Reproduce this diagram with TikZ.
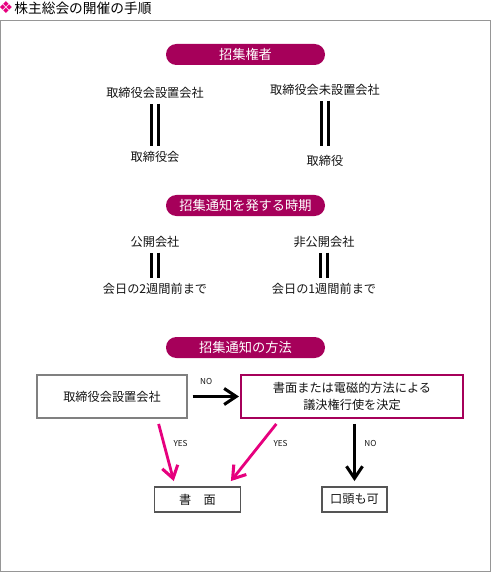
\documentclass[tikz,border=0pt]{standalone}
\usepackage{fontspec}
\setmainfont{Noto Sans CJK JP}
\newfontfamily\symfont{DejaVu Sans}
\usepackage{tikz}
\usetikzlibrary{
  arrows.meta,
  positioning,
  calc
}
\definecolor{pillcolor}{RGB}{166, 0, 90}
\definecolor{pinkcolor}{RGB}{230, 0, 126}
\definecolor{framecolor}{RGB}{150, 150, 150}
\definecolor{greybox}{RGB}{128, 128, 128}
\definecolor{darkbox}{RGB}{85, 85, 85}
\definecolor{labelcolor}{RGB}{20, 20, 20}
\tikzset{
blocktext/.style={
  align=center,
  font=\fontsize{10.4}{14}\selectfont,
  text=labelcolor
},
pill/.style={
  fill=pillcolor,
  rounded corners=0.31cm,
  minimum width=4.77cm,
  minimum height=0.63cm,
  inner sep=0pt,
  text=white,
  font=\fontsize{11.3}{13}\selectfont
},
plain/.style={
  blocktext,
  inner sep=1pt
},
greyblock/.style={
  draw=greybox,
  line width=1.6pt,
  minimum height=1.29cm,
  blocktext
},
pinkblock/.style={
  draw=pillcolor,
  line width=1.6pt,
  minimum height=1.29cm,
  blocktext
},
resultblock/.style={
  draw=darkbox,
  line width=1.6pt,
  minimum height=0.75cm,
  inner sep=0pt,
  blocktext
},
eqbar/.style={
  double=white,
  draw=black,
  line width=3pt,
  double distance=3pt,
  shorten <=3pt,
  shorten >=3pt
},
arrow/.style={
  -{Straight Barb[length=3.6mm,width=4.8mm,line width=2.6pt]},
  line width=2.8pt,
  draw=black
},
yesarrow/.style={
  arrow,
  draw=pinkcolor,
  line width=2.4pt
},
tag/.style={
  font=\fontsize{7}{8}\selectfont,
  text=labelcolor,
  inner sep=0pt
}
}

\begin{document}
\begin{tikzpicture}[x=0.03cm,y=-0.03cm]
  \useasboundingbox (0,0) rectangle (491,572);
  % heading and frame
  \node[text=pinkcolor, font=\symfont\fontsize{14}{14}\selectfont, inner sep=0pt] (mark) at (6,8) {❖};
  \node[right=0.5pt of mark, inner sep=0pt, font=\fontsize{11.7}{13}\selectfont] (title) {株主総会の開催の手順};
  \draw[framecolor, line width=1.2pt] (0.7,20.7) rectangle (490.3,571.3);

  % 招集権者
  \node[pill] (p1) at (245.5,54.5) {招集権者};
  \node[plain] (a1) at (155,93) {取締役会設置会社};
  \node[plain] (a2) at (155,157) {取締役会};
  \node[plain] (b1) at (325,90) {取締役会未設置会社};
  \node[plain] (b2) at (325,161) {取締役};
  \draw[eqbar] (a1) -- (a2);
  \draw[eqbar, shorten >=7pt] (b1) -- (b2);

  % 招集通知を発する時期
  \node[pill] (p2) at (245.5,205.5) {招集通知を発する時期};
  \node[plain] (c1) at (155,242) {公開会社};
  \node[plain] (c2) at (155,289) {会日の2週間前まで};
  \node[plain] (d1) at (324,242) {非公開会社};
  \node[plain] (d2) at (324,289) {会日の1週間前まで};
  \draw[eqbar] (c1) -- (c2);
  \draw[eqbar] (d1) -- (d2);

  % 招集通知の方法
  \node[pill] (p3) at (245.5,347.5) {招集通知の方法};
  \node[greyblock, minimum width=4.5cm] (board) at (112,396.5) {取締役会設置会社};
  \node[pinkblock, minimum width=6.66cm] (decide) at (352,396.5) {書面または電磁的方法による\\議決権行使を決定};
  \node[resultblock, minimum width=2.58cm] (written) at (197.5,499.5) {書　面};
  \node[resultblock, minimum width=1.95cm] (oral) at (354.5,499.5) {口頭も可};

  \draw[arrow, shorten <=4pt, shorten >=1pt] (board) -- (decide)
    node[tag, pos=0.35, above=9pt] {NO};
  \draw[yesarrow] ($(board.south west)!0.807!(board.south east)+(0,5)$)
    -- ($(written.north west)!0.23!(written.north east)+(0,-5)$)
    node[tag, pos=0.35, right=7pt] {YES};
  \draw[yesarrow] ($(decide.south west)!0.162!(decide.south east)+(0,5)$)
    -- ($(written.north west)!0.88!(written.north east)+(0,-5)$)
    node[tag, pos=0.35, right=10pt] {YES};
  \draw[arrow] ($(oral.north |- decide.south)+(0,5)$) -- ($(oral.north)+(0,-5)$)
    node[tag, pos=0.35, right=7pt] {NO};
\end{tikzpicture}
\end{document}
